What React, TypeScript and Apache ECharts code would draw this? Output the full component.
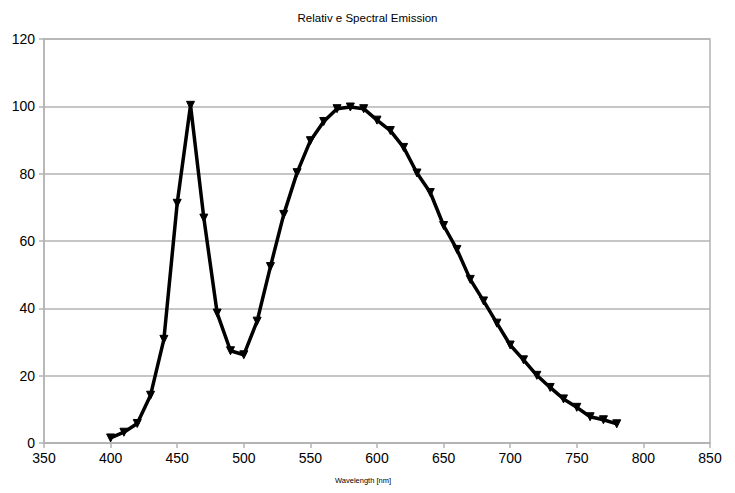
import React, { useEffect, useRef } from "react";
import * as echarts from "echarts";

const wavelengths = [400, 410, 420, 430, 440, 450, 460, 470, 480, 490, 500, 510, 520, 530, 540, 550, 560, 570, 580, 590, 600, 610, 620, 630, 640, 650, 660, 670, 680, 690, 700, 710, 720, 730, 740, 750, 760, 770, 780];
const emission = [1.5, 3.2, 5.8, 14.2, 30.8, 71.2, 100.3, 66.8, 38.6, 27.4, 26.2, 36.2, 52.4, 67.9, 80.3, 89.8, 95.5, 99.3, 99.8, 99.3, 95.9, 92.8, 87.8, 80.2, 74.4, 64.6, 57.5, 48.6, 42.2, 35.6, 29.1, 24.7, 20.1, 16.5, 13.1, 10.6, 7.8, 6.9, 5.7];

const titleText = "Relativ e Spectral Emission";
const xAxisTitle = "Wavelength [nm]";

export default function App() {
  const ref = useRef<HTMLDivElement>(null);
  useEffect(() => {
    if (!ref.current) return;
    const chart = echarts.init(ref.current, null, { renderer: "svg" });
    const grey = "#b3b3b3";
    const font = "'Liberation Sans', Arial, sans-serif";
    chart.setOption({
      animation: false,
      backgroundColor: "#ffffff",
      title: {
        text: titleText,
        left: "center",
        top: 7,
        textStyle: { fontFamily: font, fontSize: 11.5, fontWeight: "normal", color: "#000" },
      },
      grid: {
        left: 44,
        right: 25,
        top: 39,
        bottom: 50,
        show: true,
        borderColor: grey,
        borderWidth: 1.5,
        backgroundColor: "transparent",
      },
      xAxis: {
        type: "value",
        min: 350,
        max: 850,
        interval: 50,
        axisLine: { show: true, lineStyle: { color: grey, width: 1.5 } },
        axisTick: { show: true, length: 5, lineStyle: { color: grey, width: 1.5 } },
        splitLine: { show: false },
        axisLabel: { color: "#000", fontFamily: font, fontSize: 14, margin: 8 },
      },
      yAxis: {
        type: "value",
        min: 0,
        max: 120,
        interval: 20,
        axisLine: { show: true, lineStyle: { color: grey, width: 1.5 } },
        axisTick: { show: true, length: 5, lineStyle: { color: grey, width: 1.5 } },
        splitLine: { show: true, lineStyle: { color: grey, width: 1.5 } },
        axisLabel: { color: "#000", fontFamily: font, fontSize: 14, margin: 9 },
      },
      graphic: [
        {
          type: "text",
          left: 335,
          top: 476,
          silent: true,
          style: { text: xAxisTitle, font: "7.5px 'Liberation Sans', Arial, sans-serif", fill: "#000000" },
        },
      ],
      series: [
        {
          type: "line",
          data: wavelengths.map((w, i) => [w, emission[i]]),
          symbol: "triangle",
          symbolRotate: 180,
          symbolSize: 8,
          showSymbol: true,
          lineStyle: { color: "#000", width: 3.5 },
          itemStyle: { color: "#000", borderColor: "#000" },
        },
      ],
    });
    return () => chart.dispose();
  }, []);
  return <div ref={ref} style={{ width: 735, height: 493, position: "absolute", left: 0, top: 0 }} />;
}
